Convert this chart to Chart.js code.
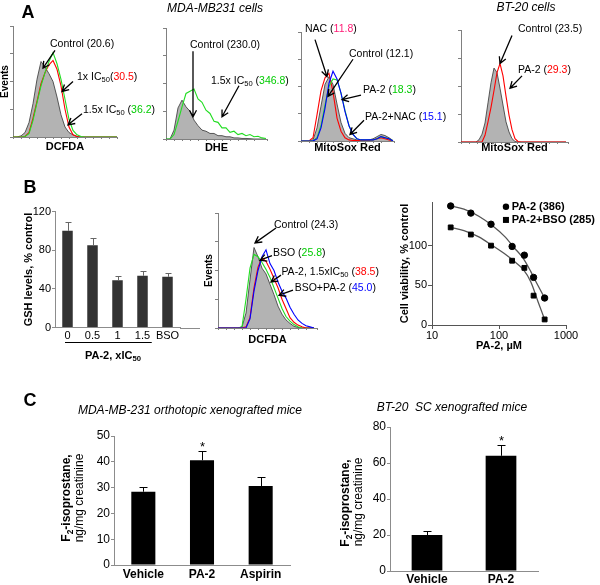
<!DOCTYPE html>
<html>
<head>
<meta charset="utf-8">
<script src="https://cdn.jsdelivr.net/npm/chart.js"></script>
<style>
  body { margin: 0; background: #fff; }
  #fig { position: relative; width: 600px; height: 585px; overflow: hidden; font-family: "Liberation Sans", Arial, sans-serif; }
  canvas { position: absolute; }
  .t { position: absolute; transform: translate(-50%, -50%); white-space: pre; line-height: 1; color: #000; }
  .r { transform: translate(-50%, -50%) rotate(-90deg); }
  .b { font-weight: bold; }
  .i { font-style: italic; }
  .big { font-size: 18px; font-weight: bold; }
  sub { font-size: 70%; vertical-align: -0.3em; line-height: 0; }
</style>
</head>
<body>
<div id="fig">
  <canvas id="a1" width="175" height="160" style="left:0;top:0"></canvas>
  <canvas id="a2" width="150" height="160" style="left:150px;top:0"></canvas>
  <canvas id="a3" width="170" height="160" style="left:288px;top:0"></canvas>
  <canvas id="a4" width="152" height="160" style="left:448px;top:0"></canvas>
  <canvas id="b1" width="215" height="170" style="left:0;top:180px"></canvas>
  <canvas id="b2" width="200" height="160" style="left:185px;top:195px"></canvas>
  <canvas id="b3" width="205" height="165" style="left:395px;top:190px"></canvas>
  <canvas id="c1" width="300" height="185" style="left:0;top:400px"></canvas>
  <canvas id="c2" width="300" height="185" style="left:300px;top:400px"></canvas>

  <div class="t big" style="left:28px;top:12px">A</div>
  <div class="t big" style="left:30px;top:187px">B</div>
  <div class="t big" style="left:30px;top:400px">C</div>
  <div class="t i" style="left:215px;top:8px;font-size:12px">MDA-MB231 cells</div>
  <div class="t i" style="left:526px;top:7px;font-size:12px">BT-20 cells</div>
  <div class="t b" style="left:113px;top:355px;font-size:11px">PA-2, xIC<sub>50</sub></div>
  <div class="t i" style="left:190px;top:410px;font-size:12px">MDA-MB-231 orthotopic xenografted mice</div>
  <div class="t i" style="left:452px;top:407px;font-size:12px">BT-20  SC xenografted mice</div>
  <div class="t r b" style="left:66px;top:498px;font-size:12px">F<sub>2</sub>-isoprostane,</div>
  <div class="t r" style="left:79px;top:498px;font-size:12px">ng/mg creatinine</div>
  <div class="t r b" style="left:345px;top:503px;font-size:12px">F<sub>2</sub>-isoprostane,</div>
  <div class="t r" style="left:358px;top:502px;font-size:12px">ng/mg creatinine</div>
</div>

<script>
// ---- A: histograms (bins in axis units, values in % of top tick) ----
const binsA1 = [0,4,8,12,16,20,24,28,32,36,40,44,48,52,56,60,64,68,72,76,80,84,88,92,96,100,104];
const a1Ctrl = [0,0,1,4,13,30,52,68,63,57,50,36,20,9,4,2,0.5,0,0,0,0,0,0,0,0,0,0];
const a1Ic50 = [0,0,0,0.5,4,17,32,48,58,65,69,61,46,25,9,2,0.5,0,0,0,0,0,0,0,0,0,0];
const a1Ic50x15 = [0,0,0,0.5,3,15,31,46,58,68,76,66,52,34,16,6,2,0.5,0,0,0,0,0,0,0,0,0];

const binsA2 = [0,4,8,12,16,20,24,28,32,36,40,44,48,52,56,60,64,68,72,76,80,84,88,92,96,100];
const a2Ctrl = [0,0,8,28,35,29,25,17,12,8,7,5,5,3,3,2,2,1,1,0.5,0.5,0.3,0,0,0,0];
const a2Ic50x15 = [0,0,4,16,29,41,43,45,36,33,26,23,16,15,10,10,6,7,4,5,3,4,2,2.5,1,0.5];

const binsA3 = [0,4,8,12,16,20,24,28,32,36,40,44,48,52,56,60,64,68,72,76,80,84,88,92];
const a3Ctrl = [0,0,0,1,12,32,52,59,52,34,17,7,3,2,1,1,0.5,1,2,4,6,5,3,0.5];
const a3Nac = [0,0,0,3,24,46,58,62,45,21,9,3,1,0.5,0.5,0.5,0.5,0.5,1,2,3,2,1,0];
const a3Pa2 = [0,0,0,0,3,14,33,50,57,56,44,28,14,6,2,1,1,1,1,2,4,3,2,0];
const a3Pa2Nac = [0,0,0,0,2,12,30,53,64,57,44,27,14,6,2,1,1,1,1,2,4,3,2,0];

const binsA4 = [0,3,6,9,12,15,18,21,24,27,30,33,36,39,42,45,48,51,54,57,60,63,66,69,72,75,78,81,84,87,90,93,96,99,102,105];
const a4Ctrl = [0,0,0,0,0,0,2,7,17,35,53,66,62,48,33,18,9,3,0.5,0,0,0,0,0,0,0,0,0,0,0,0,0,0,0,0,0];
const a4Pa2 = [0,0,0,0,0,0,0,0,6,18,31,46,62,70,59,41,24,11,3,0.5,0,0,0,0,0,0,0,0,0,0,0,0,0,0,0,0];

// ---- B ----
const gshLabels = ['0', '0.5', '1', '1.5', 'BSO'];
const gshVals = [100, 85, 49, 53.5, 52.4];
const gshErr = [9, 7.5, 4.5, 5, 3.8];

const binsB2 = [0,4,8,12,16,20,24,28,32,36,40,44,48,52,56,60,64,68,72,76,80,84,88,92,96];
const b2Ctrl = [0,0,0,0,0,0,1,13,42,70,62,52,47,38,29,19,12,7,4,1.5,0.5,0,0,0,0];
const b2Bso = [0,0,0,0,0,0,1,25,52,64,62,57,51,44,35,26,17,10,6,3,1,0,0,0,0];
const b2Pa2 = [0,0,0,0,0,0,0,1,9,35,53,61,58,51,43,35,25,17,9,5,2.5,1,0,0,0];
const b2BsoPa2 = [0,0,0,0,0,0,0,0,8,32,50,62,68,56,50,40,32,26,18,12,7,4,2,1,0];

const doseX = [19, 38, 76, 157, 239, 328, 480];
const viaPa2 = [150, 141, 127, 99, 88, 60, 34];
const viaPa2Bso = [123, 114, 100, 81, 72, 37, 7];
const fitX = [19, 30, 50, 80, 120, 170, 230, 300, 380, 480];
const fitPa2 = [150, 146, 137, 125, 112, 97, 84, 67, 50, 34];
const fitPa2Bso = [123, 119, 111, 100, 90, 80, 70, 54, 30, 7];

// ---- C ----
const c1Labels = ['Vehicle', 'PA-2', 'Aspirin'];
const c1Vals = [28.4, 40.6, 30.6];
const c1Err = [1.9, 3.4, 3.4];
const c1Sig = ['', '*', ''];
const c2Labels = ['Vehicle', 'PA-2'];
const c2Vals = [20, 64];
const c2Err = [2.3, 6];
const c2Sig = ['', '*'];

const RED = '#ff0000', GREEN = '#00cc00', BLUE = '#0000ff', PINK = '#ff1a75';
const GRAYFILL = '#b3b3b3', AX = '#808080';
const FONT = '"Liberation Sans", Arial, Helvetica, sans-serif';

Chart.defaults.font.family = FONT;
Chart.defaults.color = '#000';
Chart.defaults.animation = false;

// extra drawing per canvas: arrows + labels, error bars, lines
const EXTRAS = {};

function rich(ctx, parts, x, y, bold, size) {
  size = size || 10.5;
  let cx = x;
  ctx.textAlign = 'left';
  ctx.textBaseline = 'middle';
  parts.forEach(p => {
    const sub = p[2] === 'sub';
    ctx.font = (bold ? 'bold ' : '') + (sub ? size * 0.72 : size) + 'px ' + FONT;
    ctx.fillStyle = p[1] || '#000';
    ctx.fillText(p[0], cx, sub ? y + 3 : y);
    cx += ctx.measureText(p[0]).width;
  });
}

function arrow(ctx, x1, y1, x2, y2) {
  const a = Math.atan2(y2 - y1, x2 - x1), L = 6.5, w = 3.5;
  ctx.strokeStyle = '#000';
  ctx.lineWidth = 1.3;
  ctx.beginPath();
  ctx.moveTo(x1, y1);
  ctx.lineTo(x2, y2);
  ctx.moveTo(x2 - L * Math.cos(a) + w * Math.sin(a), y2 - L * Math.sin(a) - w * Math.cos(a));
  ctx.lineTo(x2, y2);
  ctx.lineTo(x2 - L * Math.cos(a) - w * Math.sin(a), y2 - L * Math.sin(a) + w * Math.cos(a));
  ctx.stroke();
}

function marker(ctx, style, x, y) {
  ctx.fillStyle = '#000';
  ctx.beginPath();
  if (style === 'rect') ctx.rect(x - 3, y - 3, 6, 6);
  else ctx.arc(x, y, 3.2, 0, Math.PI * 2);
  ctx.fill();
}

const extras = {
  id: 'extras',
  afterDatasetsDraw(chart) {
    const o = EXTRAS[chart.canvas.id];
    if (!o) return;
    const ctx = chart.ctx, xs = chart.scales.x, ys = chart.scales.y;
    const X = v => xs.getPixelForValue(v), Y = v => ys.getPixelForValue(v);
    ctx.save();
    if (o.err) {
      ctx.strokeStyle = o.errColor;
      ctx.lineWidth = 1;
      chart.getDatasetMeta(0).data.forEach((bar, i) => {
        const top = Math.round(Y(o.vals[i] + o.err[i])) + 0.5, bx = Math.round(bar.x) + 0.5;
        ctx.beginPath();
        ctx.moveTo(bx, bar.y);
        ctx.lineTo(bx, top);
        ctx.moveTo(bx - o.cap, top);
        ctx.lineTo(bx + o.cap, top);
        ctx.stroke();
        if (o.sig && o.sig[i]) {
          ctx.fillStyle = '#000';
          ctx.font = '13px ' + FONT;
          ctx.textAlign = 'center';
          ctx.textBaseline = 'alphabetic';
          ctx.fillText(o.sig[i], bx, top - 1);
        }
      });
    }
    (o.lines || []).forEach(l => {
      ctx.strokeStyle = l[4] || '#000';
      ctx.lineWidth = 1;
      ctx.beginPath();
      ctx.moveTo(X(l[0]), Math.round(Y(l[1])) + 0.5);
      ctx.lineTo(X(l[2]), Math.round(Y(l[3])) + 0.5);
      ctx.stroke();
    });
    (o.notes || []).forEach(n => {
      if (n.arrow) arrow(ctx, X(n.arrow[0]), Y(n.arrow[1]), X(n.arrow[2]), Y(n.arrow[3]));
      if (n.point) marker(ctx, n.point[0], X(n.point[1]), Y(n.at[1]));
      rich(ctx, n.parts, X(n.at[0]), Y(n.at[1]), n.bold, n.size);
    });
    ctx.restore();
  }
};

// area = [left, top, right, bottom] of the plot inside the canvas
function hist(id, bins, sets, o) {
  const el = document.getElementById(id), W = el.width, H = el.height;
  EXTRAS[id] = { notes: o.notes };
  return new Chart(el, {
    type: 'line',
    data: {
      datasets: sets.map(s => ({
        data: s.v.map((v, i) => ({ x: bins[i], y: v })),
        borderColor: s.c,
        borderWidth: s.fill ? 0.8 : 1.1,
        backgroundColor: s.fill || 'transparent',
        fill: s.fill ? 'origin' : false,
        pointRadius: 0,
        tension: 0,
        order: s.fill ? 2 : 1
      }))
    },
    options: {
      responsive: false,
      events: [],
      layout: { padding: { left: 0, top: o.area[1], right: W - o.area[2], bottom: 0 } },
      plugins: { legend: { display: false }, tooltip: { enabled: false } },
      scales: {
        x: {
          type: 'linear', min: 0, max: o.area[2] - o.area[0],
          afterFit: s => { s.height = H - o.area[3]; },
          ticks: { display: false, stepSize: 8 },
          grid: { drawOnChartArea: false, tickLength: 2, color: AX },
          border: { color: AX },
          title: { display: true, text: o.xTitle, font: { size: 11, weight: 'bold' }, padding: { top: 0, bottom: o.xtPad } }
        },
        y: {
          min: 0, max: 100,
          afterFit: s => { s.width = o.area[0]; },
          ticks: { display: false, stepSize: 25 },
          grid: { drawOnChartArea: false, tickLength: 3, color: AX },
          border: { color: AX },
          title: { display: !!o.yTitle, text: o.yTitle || '', font: { size: 10, weight: 'bold', lineHeight: 1 }, padding: { top: o.ytPad || 0, bottom: 0 } }
        }
      }
    },
    plugins: [extras]
  });
}

function bars(id, labels, vals, err, o) {
  const el = document.getElementById(id), W = el.width, H = el.height;
  EXTRAS[id] = { vals: vals, err: err, sig: o.sig, cap: o.cap, errColor: o.errColor, lines: o.lines };
  return new Chart(el, {
    type: 'bar',
    data: {
      labels: labels,
      datasets: [{ data: vals, backgroundColor: o.color, borderWidth: 0, categoryPercentage: 1, barPercentage: o.barPct }]
    },
    options: {
      responsive: false,
      events: [],
      layout: { padding: { left: 0, top: o.area[1], right: W - o.area[2], bottom: 0 } },
      plugins: { legend: { display: false }, tooltip: { enabled: false } },
      scales: {
        x: {
          afterFit: s => { s.height = H - o.area[3]; },
          ticks: { padding: o.xPad, maxRotation: 0, minRotation: 0, autoSkip: false, font: { size: o.xSize, weight: o.xWeight } },
          grid: { display: false, drawTicks: false },
          border: { color: o.axis }
        },
        y: {
          min: 0, max: o.ymax,
          afterFit: s => { s.width = o.area[0]; },
          ticks: { stepSize: o.step, padding: 1, font: { size: o.ySize } },
          grid: { drawOnChartArea: false, tickLength: 3, color: o.axis },
          border: { color: o.axis },
          title: { display: !!o.yTitle, text: o.yTitle || '', font: { size: 11, weight: 'bold', lineHeight: 1 }, padding: { top: o.ytPad || 0, bottom: 0 } }
        }
      }
    },
    plugins: [extras]
  });
}

// ---- panel A ----
hist('a1', binsA1, [
  { v: a1Ic50x15, c: '#22dd22' },
  { v: a1Ic50, c: RED },
  { v: a1Ctrl, c: '#333', fill: GRAYFILL }
], {
  area: [13, 26, 117, 137], xTitle: 'DCFDA', xtPad: 6, yTitle: 'Events', ytPad: 0,
  notes: [
    { at: [37, 84], parts: [['Control (20.6)']], arrow: [42, 78, 30, 62] },
    { at: [64, 54], parts: [['1x IC'], ['50', 0, 'sub'], ['('], ['30.5', RED], [')']], arrow: [60, 50, 49, 41] },
    { at: [70, 24], parts: [['1.5x IC'], ['50', 0, 'sub'], [' ('], ['36.2', GREEN], [')']], arrow: [69, 21, 55, 11] }
  ]
});

hist('a2', binsA2, [
  { v: a2Ic50x15, c: '#22dd22' },
  { v: a2Ctrl, c: '#333', fill: GRAYFILL }
], {
  area: [16, 28, 117, 139], xTitle: 'DHE', xtPad: 5.5,
  notes: [
    { at: [24, 85], parts: [['Control (230.0)']], arrow: [27, 79, 27, 20] },
    { at: [45, 52], parts: [['1.5x IC'], ['50', 0, 'sub'], [' ('], ['346.8', GREEN], [')']], arrow: [73, 48, 56, 20] }
  ]
});

hist('a3', binsA3, [
  { v: a3Pa2Nac, c: BLUE },
  { v: a3Pa2, c: '#22dd22' },
  { v: a3Nac, c: RED },
  { v: a3Ctrl, c: '#333', fill: GRAYFILL }
], {
  area: [13, 32, 106, 141], xTitle: 'MitoSox Red', xtPad: 5.5,
  notes: [
    { at: [4, 103], parts: [['NAC ('], ['11.8', PINK], [')']], arrow: [14, 93, 26, 59] },
    { at: [48, 80], parts: [['Control (12.1)']], arrow: [52, 75, 27, 41] },
    { at: [62, 47], parts: [['PA-2 ('], ['18.3', GREEN], [')']], arrow: [60, 42, 41, 38] },
    { at: [64, 22], parts: [['PA-2+NAC ('], ['15.1', BLUE], [')']], arrow: [63, 19, 49, 6] }
  ]
});

hist('a4', binsA4, [
  { v: a4Pa2, c: RED },
  { v: a4Ctrl, c: '#333', fill: GRAYFILL }
], {
  area: [13, 30, 120, 142], xTitle: 'MitoSox Red', xtPad: 5,
  notes: [
    { at: [57, 101], parts: [['Control (23.5)']], arrow: [51, 95, 39, 70] },
    { at: [57, 64], parts: [['PA-2 ('], ['29.3', RED], [')']], arrow: [61, 59, 49, 48] }
  ]
});

// ---- panel B ----
bars('b1', gshLabels, gshVals, gshErr, {
  area: [55, 31.5, 180, 147.5], ymax: 120, step: 40, color: '#333333', barPct: 0.42,
  errColor: '#666', cap: 3, axis: '#8c8c8c', xPad: 2, xSize: 11, ySize: 11,
  yTitle: 'GSH levels, % control', ytPad: 23.5,
  lines: [[-0.1, -15.3, 3.37, -15.3, '#000'], [4.5, 0, 5.3, 0, '#8c8c8c']]
});

hist('b2', binsB2, [
  { v: b2BsoPa2, c: BLUE },
  { v: b2Pa2, c: RED },
  { v: b2Bso, c: '#22dd22' },
  { v: b2Ctrl, c: '#333', fill: GRAYFILL }
], {
  area: [33, 18, 132, 133], xTitle: 'DCFDA', xtPad: 8.4, yTitle: 'Events', ytPad: 19,
  notes: [
    { at: [56, 89.5], parts: [['Control (24.3)']], arrow: [58, 87, 37, 74] },
    { at: [55, 65.4], parts: [['BSO ('], ['25.8', GREEN], [')']], arrow: [54, 63, 42, 59] },
    { at: [63.4, 48.8], parts: [['PA-2, 1.5xIC'], ['50', 0, 'sub'], [' ('], ['38.5', RED], [')']], arrow: [63, 46, 53, 40] },
    { at: [76.7, 34.3], parts: [['BSO+PA-2 ('], ['45.0', BLUE], [')']], arrow: [75, 33, 61, 28.5] }
  ]
});

(function () {
  const el = document.getElementById('b3'), W = el.width, H = el.height;
  const area = [37, 12, 171, 135];
  EXTRAS.b3 = {
    notes: [
      { at: [155, 149], parts: [['PA-2 (386)']], bold: true, size: 11, point: ['circle', 127] },
      { at: [155, 132.4], parts: [['PA-2+BSO (285)']], bold: true, size: 11, point: ['rect', 127] }
    ]
  };
  const pts = ys => doseX.map((x, i) => ({ x: x, y: ys[i] }));
  const fit = ys => fitX.map((x, i) => ({ x: x, y: ys[i] }));
  new Chart(el, {
    type: 'scatter',
    data: {
      datasets: [
        { data: pts(viaPa2), pointStyle: 'circle', pointRadius: 3.2, backgroundColor: '#000', borderColor: '#000', showLine: false, clip: false },
        { data: pts(viaPa2Bso), pointStyle: 'rect', pointRadius: 3.4, backgroundColor: '#000', borderColor: '#000', showLine: false, clip: false },
        { data: fit(fitPa2), showLine: true, pointRadius: 0, borderColor: '#555', borderWidth: 1.3, cubicInterpolationMode: 'monotone' },
        { data: fit(fitPa2Bso), showLine: true, pointRadius: 0, borderColor: '#555', borderWidth: 1.3, cubicInterpolationMode: 'monotone' }
      ]
    },
    options: {
      responsive: false,
      events: [],
      layout: { padding: { left: 0, top: area[1], right: W - area[2], bottom: 0 } },
      plugins: { legend: { display: false }, tooltip: { enabled: false } },
      scales: {
        x: {
          type: 'logarithmic', min: 10, max: 1000,
          afterFit: s => { s.height = H - area[3]; },
          afterBuildTicks: s => { s.ticks = s.ticks.filter(t => [10, 100, 1000].includes(t.value)); },
          ticks: { padding: 0, font: { size: 11 }, callback: v => String(v) },
          grid: { drawOnChartArea: false, tickLength: 4, color: '#555' },
          border: { color: '#555' },
          title: { display: true, text: 'PA-2, µM', font: { size: 11, weight: 'bold' }, padding: { top: 0, bottom: 2.4 } }
        },
        y: {
          min: 0, max: 155,
          afterFit: s => { s.width = area[0]; },
          afterBuildTicks: s => { s.ticks = s.ticks.filter(t => t.value % 50 === 0); },
          ticks: { stepSize: 50, padding: 1, font: { size: 11 } },
          grid: { drawOnChartArea: false, tickLength: 4, color: '#555' },
          border: { color: '#555' },
          title: { display: true, text: 'Cell viability, % control', font: { size: 11, weight: 'bold', lineHeight: 1 }, padding: { top: 4.5, bottom: 0 } }
        }
      }
    },
    plugins: [extras]
  });
})();

// ---- panel C ----
bars('c1', c1Labels, c1Vals, c1Err, {
  area: [114, 36, 290, 165], ymax: 50, step: 10, color: '#000', barPct: 0.41,
  errColor: '#000', cap: 4, axis: '#8c8c8c', xPad: 2, xSize: 12, xWeight: 'bold', ySize: 12,
  sig: c1Sig
});

bars('c2', c2Labels, c2Vals, c2Err, {
  area: [90, 27, 238, 171], ymax: 80, step: 20, color: '#000', barPct: 0.415,
  errColor: '#000', cap: 4, axis: '#8c8c8c', xPad: 1, xSize: 12, xWeight: 'bold', ySize: 12,
  sig: c2Sig
});
</script>
</body>
</html>
